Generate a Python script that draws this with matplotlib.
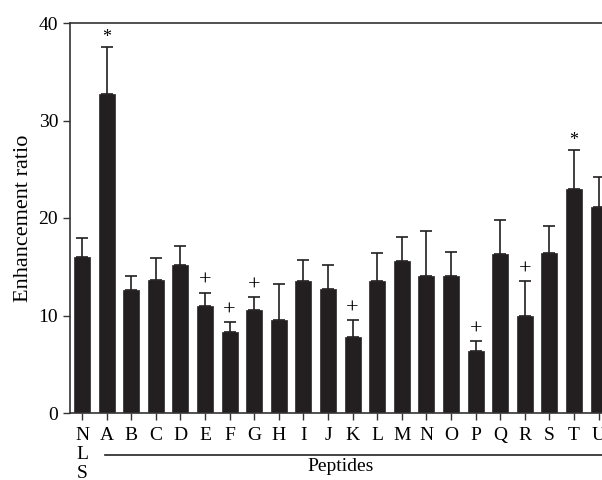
import numpy as np
import matplotlib.pyplot as plt

plt.rcParams['font.family'] = ['Liberation Serif', 'DejaVu Serif']

# Bar labels, means and top of the error bars
labels = ['N\nL\nS', 'A', 'B', 'C', 'D', 'E', 'F', 'G', 'H', 'I', 'J',
          'K', 'L', 'M', 'N', 'O', 'P', 'Q', 'R', 'S', 'T', 'U']
means = [16.0, 32.7, 12.6, 13.6, 15.2, 11.0, 8.3, 10.6, 9.5, 13.55, 12.7,
         7.8, 13.55, 15.6, 14.1, 14.1, 6.4, 16.3, 10.0, 16.4, 23.0, 21.1]
err_top = [17.9, 37.5, 14.1, 15.9, 17.1, 12.35, 9.3, 11.9, 13.2, 15.7, 15.2,
           9.5, 16.4, 18.1, 18.7, 16.5, 7.4, 19.8, 13.5, 19.2, 27.0, 24.2]
# significance marks
marks = {'A': '*', 'T': '*', 'E': '+', 'F': '+', 'G': '+', 'K': '+', 'P': '+', 'R': '+'}

x = np.arange(len(labels))
means = np.array(means)
up = np.array(err_top) - means

fig = plt.figure(figsize=(6.02, 4.8), dpi=100)
# axes run past the right edge of the figure, as in the original crop
ax = fig.add_axes([70 / 602, 67 / 480, 541 / 602, 390 / 480])

ax.bar(x, means, width=0.65, color='#231f20', edgecolor='#3a3a3a', linewidth=0.6,
       yerr=[np.zeros_like(up), up], capsize=4.5,
       error_kw=dict(ecolor='#231f20', elinewidth=1.2, capthick=1.2))

for i, lab in enumerate(labels):
    if lab in marks:
        m = marks[lab]
        if m == '*':
            ax.annotate(m, (x[i], err_top[i]), xytext=(0, 7), textcoords='offset points',
                        ha='center', va='center', fontsize=13)
        else:
            ax.annotate(m, (x[i], err_top[i]), xytext=(0, 8), textcoords='offset points',
                        ha='center', va='center', fontsize=16)

ax.set_xlim(-0.49, 21.5)
ax.set_ylim(0, 40)
ax.set_yticks([0, 10, 20, 30, 40])
ax.set_xticks(x)
ax.set_xticklabels(labels, linespacing=1.15, va='top')
ax.tick_params(axis='both', labelsize=14, direction='out', length=5, width=1, color='#333333')
ax.tick_params(axis='x', pad=5)
for s in ['left', 'bottom', 'top', 'right']:
    ax.spines[s].set_linewidth(1.2)
    ax.spines[s].set_color('#333333')

ax.set_ylabel('Enhancement ratio', fontsize=16, labelpad=4)

# bracket line and group label under the peptides
trans = ax.get_xaxis_transform()
ax.plot([0.92, 22], [-0.108, -0.108], transform=trans, color='#222222', lw=1.2, clip_on=False)
ax.text(10.5, -0.138, 'Peptides', transform=trans, ha='center', va='center', fontsize=14)

fig.savefig('out.png', dpi=100)
